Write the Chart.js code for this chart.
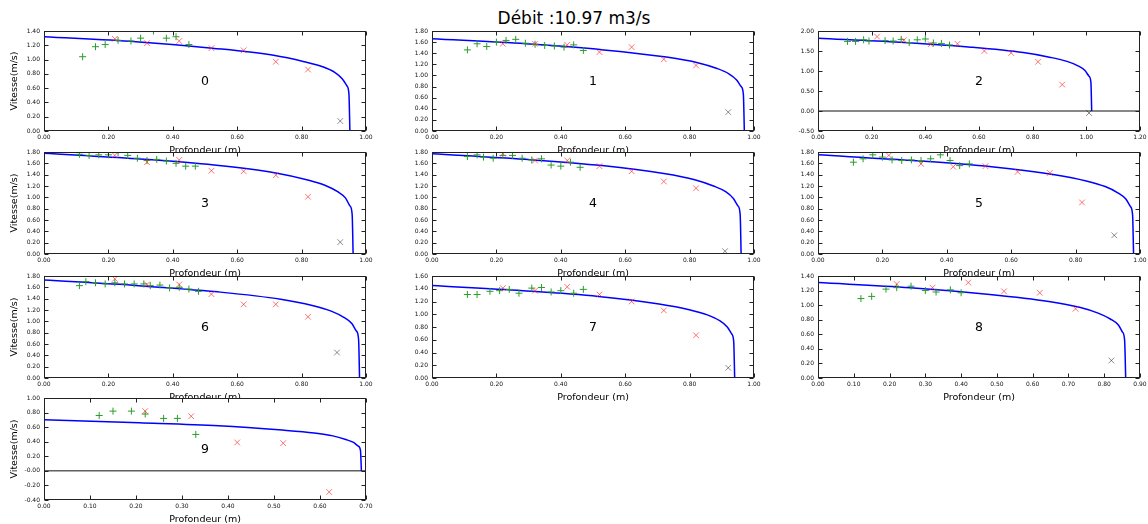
<!DOCTYPE html>
<html>
<head>
<meta charset="utf-8">
<script src="https://cdn.jsdelivr.net/npm/chart.js@4.4.1/dist/chart.umd.min.js"></script>
<style>
  html, body { margin: 0; padding: 0; background: #fff; overflow: hidden; }
  body { width: 1148px; height: 524px; position: relative; font-family: "DejaVu Sans", sans-serif; }
  #titre { position: absolute; left: 0; top: 8px; width: 1148px; text-align: center; font-size: 17px; line-height: 20px; color: #000; }
  canvas { position: absolute; }
</style>
</head>
<body>
<div id="titre">Débit :10.97 m3/s</div>
<script>
// Station numbers and axis limits
const stations = ['0', '1', '2', '3', '4', '5', '6', '7', '8', '9'];
const xMax  = [1.0, 1.0, 1.2, 1.0, 1.0, 1.0, 1.0, 1.0, 0.9, 0.7];
const xStep = [0.2, 0.2, 0.2, 0.2, 0.2, 0.2, 0.2, 0.2, 0.1, 0.1];
const yMin  = [0, 0, -0.5, 0, 0, 0, 0, 0, 0, -0.4];
const yMax  = [1.4, 1.8, 2.0, 1.8, 1.8, 1.8, 1.8, 1.6, 1.4, 1.0];
const yStep = [0.2, 0.2, 0.5, 0.2, 0.2, 0.2, 0.2, 0.2, 0.2, 0.2];

// Green "+" measurements
const plusX = [
  [0.12, 0.16, 0.19, 0.23, 0.27, 0.30, 0.34, 0.38, 0.41, 0.45],
  [0.11, 0.14, 0.17, 0.20, 0.23, 0.26, 0.29, 0.32, 0.35, 0.38, 0.41, 0.44, 0.47],
  [0.11, 0.14, 0.17, 0.19, 0.25, 0.28, 0.31, 0.34, 0.37, 0.40, 0.43, 0.46, 0.49],
  [0.11, 0.14, 0.17, 0.20, 0.23, 0.26, 0.29, 0.32, 0.35, 0.38, 0.41, 0.44, 0.47],
  [0.11, 0.14, 0.16, 0.19, 0.22, 0.25, 0.28, 0.31, 0.34, 0.37, 0.40, 0.43, 0.46],
  [0.11, 0.14, 0.17, 0.20, 0.23, 0.26, 0.29, 0.32, 0.35, 0.38, 0.41, 0.44, 0.47],
  [0.11, 0.13, 0.16, 0.19, 0.22, 0.25, 0.28, 0.31, 0.33, 0.36, 0.39, 0.42, 0.45, 0.48],
  [0.11, 0.14, 0.18, 0.21, 0.24, 0.27, 0.31, 0.34, 0.37, 0.40, 0.44, 0.47],
  [0.12, 0.15, 0.19, 0.22, 0.26, 0.30, 0.33, 0.37, 0.40],
  [0.12, 0.15, 0.19, 0.22, 0.26, 0.29, 0.33]
];
const plusY = [
  [1.04, 1.18, 1.21, 1.27, 1.26, 1.30, 1.40, 1.30, 1.32, 1.21],
  [1.46, 1.57, 1.52, 1.60, 1.63, 1.65, 1.58, 1.56, 1.54, 1.53, 1.51, 1.55, 1.45],
  [1.74, 1.74, 1.78, 1.75, 1.76, 1.75, 1.79, 1.71, 1.78, 1.80, 1.70, 1.69, 1.65],
  [1.76, 1.74, 1.75, 1.75, 1.79, 1.74, 1.69, 1.65, 1.67, 1.64, 1.60, 1.55, 1.55],
  [1.72, 1.75, 1.71, 1.69, 1.74, 1.74, 1.69, 1.66, 1.68, 1.57, 1.55, 1.62, 1.53],
  [1.62, 1.68, 1.75, 1.71, 1.66, 1.65, 1.66, 1.65, 1.68, 1.75, 1.65, 1.56, 1.59],
  [1.63, 1.70, 1.68, 1.66, 1.68, 1.66, 1.66, 1.66, 1.63, 1.64, 1.59, 1.60, 1.57, 1.53],
  [1.31, 1.31, 1.36, 1.37, 1.39, 1.33, 1.41, 1.42, 1.35, 1.37, 1.33, 1.39],
  [1.09, 1.12, 1.22, 1.24, 1.26, 1.20, 1.18, 1.21, 1.17],
  [0.76, 0.82, 0.82, 0.78, 0.72, 0.72, 0.50]
];

// Red "x" measurements
const crossX = [
  [0.22, 0.32, 0.42, 0.52, 0.62, 0.72, 0.82],
  [0.22, 0.32, 0.42, 0.52, 0.62, 0.72, 0.82],
  [0.22, 0.32, 0.42, 0.52, 0.62, 0.72, 0.82, 0.91],
  [0.22, 0.32, 0.42, 0.52, 0.62, 0.72, 0.82],
  [0.22, 0.32, 0.42, 0.52, 0.62, 0.72, 0.82],
  [0.22, 0.32, 0.42, 0.52, 0.62, 0.72, 0.82],
  [0.22, 0.32, 0.42, 0.52, 0.62, 0.72, 0.82],
  [0.22, 0.32, 0.42, 0.52, 0.62, 0.72, 0.82],
  [0.22, 0.32, 0.42, 0.52, 0.62, 0.72],
  [0.22, 0.32, 0.42, 0.52, 0.62]
];
const crossY = [
  [1.29, 1.23, 1.26, 1.16, 1.13, 0.97, 0.86],
  [1.57, 1.57, 1.55, 1.42, 1.51, 1.29, 1.18],
  [1.86, 1.77, 1.67, 1.68, 1.50, 1.45, 1.23, 0.66],
  [1.74, 1.62, 1.66, 1.47, 1.46, 1.39, 1.01],
  [1.77, 1.65, 1.65, 1.55, 1.46, 1.28, 1.16],
  [1.74, 1.59, 1.54, 1.55, 1.45, 1.43, 0.91],
  [1.75, 1.65, 1.65, 1.48, 1.30, 1.30, 1.08],
  [1.41, 1.37, 1.43, 1.31, 1.20, 1.06, 0.67],
  [1.29, 1.24, 1.31, 1.19, 1.17, 0.95],
  [0.82, 0.75, 0.39, 0.38, -0.29]
];

// Grey "x": deepest measurement
const lastX = [[0.92], [0.92], [1.01], [0.92], [0.91], [0.92], [0.91], [0.92], [0.82], []];
const lastY = [[0.14], [0.34], [-0.05], [0.21], [0.05], [0.33], [0.45], [0.16], [0.24], []];

// Fitted velocity profile (blue curve)
const curveX = [
  [0, 0.285, 0.523, 0.713, 0.808, 0.865, 0.903, 0.926, 0.941, 0.947, 0.95],
  [0, 0.291, 0.534, 0.728, 0.825, 0.883, 0.922, 0.946, 0.960, 0.967, 0.97],
  [0, 0.306, 0.561, 0.765, 0.867, 0.928, 0.969, 0.995, 1.010, 1.017, 1.02],
  [0, 0.288, 0.528, 0.720, 0.816, 0.874, 0.912, 0.936, 0.950, 0.957, 0.96],
  [0, 0.288, 0.528, 0.720, 0.816, 0.874, 0.912, 0.936, 0.950, 0.957, 0.96],
  [0, 0.294, 0.539, 0.735, 0.833, 0.892, 0.931, 0.956, 0.970, 0.977, 0.98],
  [0, 0.294, 0.539, 0.735, 0.833, 0.892, 0.931, 0.956, 0.970, 0.977, 0.98],
  [0, 0.282, 0.517, 0.705, 0.799, 0.855, 0.893, 0.917, 0.931, 0.937, 0.94],
  [0, 0.258, 0.473, 0.645, 0.731, 0.783, 0.817, 0.839, 0.851, 0.857, 0.86],
  [0, 0.207, 0.380, 0.518, 0.587, 0.628, 0.656, 0.673, 0.683, 0.688, 0.69]
];
const curveY = [
  [1.32, 1.25, 1.16, 1.06, 0.97, 0.90, 0.82, 0.73, 0.63, 0.52, 0],
  [1.66, 1.57, 1.46, 1.33, 1.23, 1.13, 1.03, 0.92, 0.80, 0.66, 0],
  [1.82, 1.72, 1.60, 1.46, 1.34, 1.24, 1.13, 1.01, 0.87, 0.72, 0],
  [1.78, 1.68, 1.57, 1.43, 1.31, 1.21, 1.10, 0.99, 0.85, 0.70, 0],
  [1.77, 1.67, 1.56, 1.42, 1.31, 1.20, 1.10, 0.98, 0.85, 0.70, 0],
  [1.75, 1.65, 1.54, 1.40, 1.29, 1.19, 1.08, 0.97, 0.84, 0.69, 0],
  [1.73, 1.63, 1.52, 1.39, 1.28, 1.18, 1.07, 0.96, 0.83, 0.68, 0],
  [1.45, 1.37, 1.28, 1.16, 1.07, 0.99, 0.90, 0.80, 0.69, 0.57, 0],
  [1.31, 1.24, 1.15, 1.05, 0.97, 0.89, 0.81, 0.73, 0.63, 0.52, 0],
  [0.70, 0.66, 0.62, 0.56, 0.52, 0.48, 0.43, 0.39, 0.34, 0.28, 0]
];

// Grid of axes on the page
const colLeft = [44, 432, 818];
const rowTop = [31, 152, 276, 398];
const rowHeight = [100, 102, 102, 102];
const axWidth = 322;
const padL = 44, padT = 8, padR = 14, padB = 26;
const police = '"DejaVu Sans", sans-serif';

const pts = (xs, ys) => xs.map((x, i) => ({ x: x, y: ys[i] }));

// White axes face, station number, frame and inward ticks (matplotlib look)
const cadre = {
  id: 'cadre',
  beforeDraw(chart) {
    const a = chart.chartArea, c = chart.ctx;
    c.save();
    c.fillStyle = '#fff';
    c.fillRect(a.left, a.top, a.right - a.left, a.bottom - a.top);
    c.restore();
  },
  afterDatasetsDraw(chart, args, opts) {
    const a = chart.chartArea, c = chart.ctx;
    c.save();
    c.font = '12.5px ' + police;
    c.fillStyle = '#000';
    c.textAlign = 'center';
    c.textBaseline = 'middle';
    c.fillText(opts.label, (a.left + a.right) / 2, (a.top + a.bottom) / 2 + 1);
    c.restore();
  },
  afterDraw(chart) {
    const a = chart.chartArea, c = chart.ctx;
    const sx = chart.scales.x, sy = chart.scales.y;
    const L = Math.round(a.left) + 0.5, R = Math.round(a.right) - 0.5;
    const T = Math.round(a.top) + 0.5, B = Math.round(a.bottom) - 0.5;
    c.save();
    c.strokeStyle = '#222';
    c.lineWidth = 1;
    c.beginPath();
    sx.ticks.forEach(t => {
      const p = Math.round(sx.getPixelForValue(t.value)) + 0.5;
      c.moveTo(p, B); c.lineTo(p, B - 4);
      c.moveTo(p, T); c.lineTo(p, T + 4);
    });
    sy.ticks.forEach(t => {
      const p = Math.round(sy.getPixelForValue(t.value)) + 0.5;
      c.moveTo(L, p); c.lineTo(L + 4, p);
      c.moveTo(R, p); c.lineTo(R - 4, p);
    });
    c.stroke();
    c.strokeRect(L, T, R - L, B - T);
    c.restore();
  }
};

stations.forEach((nom, i) => {
  const col = i % 3, row = Math.floor(i / 3);
  const canvas = document.createElement('canvas');
  const w = padL + axWidth + padR, h = padT + rowHeight[row] + padB;
  canvas.width = w; canvas.height = h;
  canvas.style.left = (colLeft[col] - padL) + 'px';
  canvas.style.top = (rowTop[row] - padT) + 'px';
  document.body.appendChild(canvas);

  const datasets = [
    {
      data: pts(curveX[i], curveY[i]),
      showLine: true,
      borderColor: '#0000ff',
      borderWidth: 1.5,
      pointRadius: 0,
      cubicInterpolationMode: 'monotone',
      clip: 0,
      order: 4
    },
    {
      data: pts(plusX[i], plusY[i]),
      pointStyle: 'cross',
      pointRadius: 3.5,
      borderColor: '#2a9d2a',
      borderWidth: 1,
      clip: 0,
      order: 2
    },
    {
      data: pts(crossX[i], crossY[i]),
      pointStyle: 'crossRot',
      pointRadius: 4,
      borderColor: 'rgba(255, 40, 40, 0.65)',
      borderWidth: 1,
      clip: 0,
      order: 1
    },
    {
      data: pts(lastX[i], lastY[i]),
      pointStyle: 'crossRot',
      pointRadius: 4,
      borderColor: 'rgba(0, 0, 0, 0.45)',
      borderWidth: 1,
      clip: 0,
      order: 1
    }
  ];
  // horizontal zero line when the axis goes below 0
  if (yMin[i] < 0) {
    datasets.push({
      data: pts([0, xMax[i]], [0, 0]),
      showLine: true,
      borderColor: '#111',
      borderWidth: 1,
      pointRadius: 0,
      clip: 0,
      order: 3
    });
  }

  new Chart(canvas.getContext('2d'), {
    type: 'scatter',
    data: { datasets: datasets },
    options: {
      responsive: false,
      animation: false,
      devicePixelRatio: 1,
      layout: { padding: { left: 0, top: padT, right: padR, bottom: 0 } },
      plugins: {
        legend: { display: false },
        tooltip: { enabled: false },
        cadre: { label: nom }
      },
      scales: {
        x: {
          type: 'linear',
          min: 0,
          max: xMax[i],
          grid: { display: false, drawTicks: false },
          border: { display: false },
          ticks: {
            stepSize: xStep[i],
            padding: 3,
            maxRotation: 0,
            autoSkip: false,
            color: '#111',
            font: { family: police, size: 6 },
            callback: v => v.toFixed(2)
          },
          title: {
            display: true,
            text: 'Profondeur (m)',
            color: '#000',
            font: { family: police, size: 9.5 },
            padding: { top: 0, bottom: 1 }
          },
          afterFit: s => { s.height = padB; }
        },
        y: {
          type: 'linear',
          min: yMin[i],
          max: yMax[i],
          grid: { display: false, drawTicks: false },
          border: { display: false },
          ticks: {
            stepSize: yStep[i],
            padding: 4,
            autoSkip: false,
            color: '#111',
            font: { family: police, size: 6 },
            callback: v => v.toFixed(2)
          },
          title: {
            display: col === 0,
            text: 'Vitesse(m/s)',
            color: '#000',
            font: { family: police, size: 9.5 },
            padding: { top: 9, bottom: 0 }
          },
          afterFit: s => { s.width = padL; }
        }
      }
    },
    plugins: [cadre]
  });
});
</script>
</body>
</html>
